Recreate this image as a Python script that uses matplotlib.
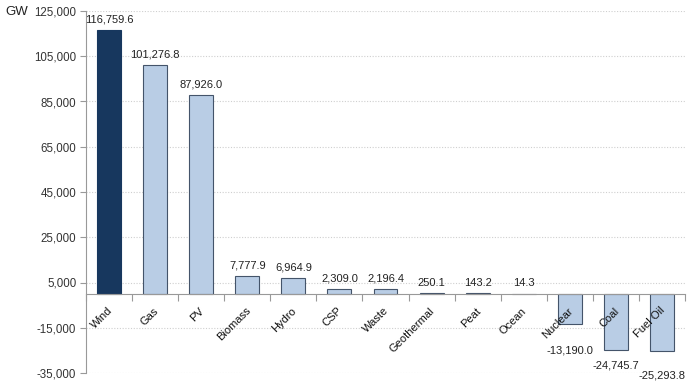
import matplotlib
matplotlib.use("Agg")
import matplotlib.pyplot as plt
from matplotlib.ticker import FuncFormatter

categories = ["Wind", "Gas", "PV", "Biomass", "Hydro", "CSP", "Waste",
              "Geothermal", "Peat", "Ocean", "Nuclear", "Coal", "Fuel Oil"]
values = [116759.6, 101276.8, 87926.0, 7777.9, 6964.9, 2309.0, 2196.4,
          250.1, 143.2, 14.3, -13190.0, -24745.7, -25293.8]
yticks = [-35000, -15000, 5000, 25000, 45000, 65000, 85000, 105000, 125000]
# extra downward offset (points) for negative value labels, to clear category text
neg_label_pad = [0, 0, 0, 0, 0, 0, 0, 0, 0, 0, 12, 4, 10]

plt.rcParams['font.family'] = ['Liberation Sans', 'DejaVu Sans']

fig = plt.figure(figsize=(6.99, 3.91), dpi=100)
ax = fig.add_axes([86/699, 1-373/391, (685-86)/699, (373-11)/391])

colors = ["#17375E"] + ["#B9CDE5"] * (len(categories) - 1)
edges = ["#17375E"] + ["#44546A"] * (len(categories) - 1)
x = list(range(len(categories)))
ax.bar(x, values, width=0.52, color=colors, edgecolor=edges, linewidth=0.8, zorder=3)

ax.set_xlim(-0.5, len(categories) - 0.5)
ax.set_ylim(-35000, 125000)
ax.set_yticks(yticks)
ax.yaxis.set_major_formatter(FuncFormatter(lambda v, p: f"{int(v):,}"))
ax.tick_params(axis='y', length=4, color="#999999", labelsize=8.3, labelcolor="#333333", pad=3)
ax.yaxis.grid(True, linestyle=(0, (1, 1.5)), color="#CFCFCF", linewidth=0.8, zorder=0)

for s in ["top", "right"]:
    ax.spines[s].set_visible(False)
ax.spines["left"].set_color("#999999")
ax.spines["bottom"].set_position(("data", 0))
ax.spines["bottom"].set_color("#999999")
ax.spines["bottom"].set_zorder(4)

ax.set_xticks([i - 0.5 for i in range(len(categories) + 1)])
ax.set_xticklabels([])
ax.tick_params(axis='x', length=5, color="#999999", direction='out')

for i, c in enumerate(categories):
    ax.annotate(c, xy=(i, 0), xytext=(-1.5, -8.5), textcoords='offset points',
                rotation=45, ha='right', va='top', rotation_mode='anchor',
                fontsize=8, color="#111111", zorder=5)

for i, v in enumerate(values):
    if v >= 0:
        ax.annotate(f"{v:,.1f}", xy=(i, v), xytext=(0, 4), textcoords='offset points',
                    ha='center', va='bottom', fontsize=8, color="#222222")
    else:
        ax.annotate(f"{v:,.1f}", xy=(i, v), xytext=(0, -4 - neg_label_pad[i]),
                    textcoords='offset points',
                    ha='center', va='top', fontsize=8, color="#222222", zorder=6)

fig.text(5/699, 1-12/391, "GW", fontsize=9.5, color="#222222", va='center', ha='left')

fig.savefig("out.png", dpi=100)
